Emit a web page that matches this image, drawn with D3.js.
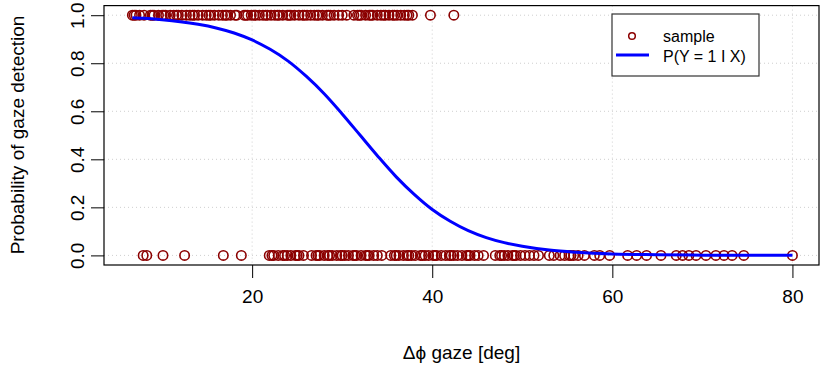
<!DOCTYPE html>
<html>
<head>
<meta charset="utf-8">
<script src="https://cdn.jsdelivr.net/npm/d3@7"></script>
<style>
  body { margin: 0; background: #fff; }
  text { font-family: "Liberation Sans", Arial, sans-serif; fill: #000; }
</style>
</head>
<body>
<svg id="svg" width="823" height="370"></svg>
<script>
// gaze angles of the samples where gaze was detected (Y = 1)
var topX = [6.7, 6.9, 7.1, 7.5, 8.0, 8.7, 8.9, 9.1, 9.6, 10.0, 10.2, 10.4, 10.9, 11.3, 11.6, 11.8,
  12.2, 12.7, 13.1, 13.4, 13.6, 14.0, 14.5, 14.9, 15.2, 15.4, 15.8, 16.3, 16.7, 17.0, 17.2, 17.6,
  18.1, 18.3, 19.1, 19.3, 19.5, 19.9, 20.2, 20.4, 20.8, 21.2, 21.5, 21.7, 22.1, 22.5, 22.8, 23.0,
  23.4, 23.9, 24.1, 24.3, 24.7, 25.2, 25.6, 25.8, 26.1, 26.5, 26.9, 27.2, 27.4, 27.8, 28.3, 28.5,
  28.7, 29.1, 29.6, 30.0, 30.5, 31.3, 31.7, 31.9, 32.1, 32.6, 33.0, 33.2, 33.4, 33.9, 34.3, 34.6,
  34.8, 35.2, 35.6, 35.8, 36.1, 36.5, 36.9, 37.2, 37.4, 37.8, 39.8, 42.4];

// gaze angles of the samples where gaze was not detected (Y = 0)
var bottomX = [7.9, 8.3, 10.1, 12.5, 16.8, 18.8, 21.9, 22.2, 22.4, 22.9, 23.4, 23.6, 23.9, 24.3,
  24.8, 25.0, 25.2, 25.7, 26.6, 27.1, 27.3, 27.5, 28.0, 28.4, 28.6, 28.9, 29.4, 29.8, 30.0, 30.3,
  30.7, 31.2, 31.4, 31.6, 32.1, 32.6, 32.8, 33.0, 33.5, 33.9, 34.4, 35.4, 35.8, 36.0, 36.3, 36.8,
  37.2, 37.4, 37.7, 38.1, 38.7, 38.9, 39.2, 39.6, 40.1, 40.3, 40.5, 41.0, 41.5, 41.9, 42.1, 42.4,
  42.8, 43.3, 43.8, 44.0, 44.2, 44.7, 45.1, 45.7, 47.0, 47.5, 47.7, 48.0, 48.4, 48.9, 49.1, 49.3,
  49.8, 50.3, 50.8, 51.3, 51.8, 53.0, 53.5, 54.2, 54.7, 55.2, 55.4, 55.7, 56.2, 56.9, 58.0, 58.6,
  59.7, 61.7, 62.7, 63.8, 65.4, 67.1, 67.8, 68.5, 69.3, 70.4, 71.5, 72.4, 73.3, 74.6, 80.0];

// fitted P(Y = 1 | X)
var curveX = [6.7, 8, 10, 12, 14, 16, 18, 20, 22, 24, 26, 28, 30, 32, 34, 36, 38, 40, 42, 44,
  46, 48, 50, 53, 56, 60, 65, 70, 75, 80];
var curveP = [0.989, 0.987, 0.981, 0.973, 0.962, 0.947, 0.926, 0.897, 0.858, 0.809, 0.746, 0.673,
  0.589, 0.500, 0.411, 0.327, 0.254, 0.191, 0.142, 0.103, 0.074, 0.053, 0.038, 0.022, 0.013,
  0.006, 0.003, 0.001, 0.0005, 0.0002];

var xTicks = [20, 40, 60, 80];
var yTicks = [0, 0.2, 0.4, 0.6, 0.8, 1.0];

var svg = d3.select("#svg");

// plot region (R style, 4% padding on both axes)
var scaleX = d3.scaleLinear().domain([3.55, 82.95]).range([104, 819]);
var scaleY = d3.scaleLinear().domain([-0.04, 1.04]).range([265, 5.6]);

// grid
var grid = svg.append("g")
  .attr("stroke", "#cfcfcf")
  .attr("stroke-width", 1)
  .attr("stroke-dasharray", "1,3");
grid.selectAll(".gx").data(xTicks).enter().append("line")
  .attr("x1", function(d) { return scaleX(d); })
  .attr("x2", function(d) { return scaleX(d); })
  .attr("y1", 5.6).attr("y2", 265);
grid.selectAll(".gy").data(yTicks).enter().append("line")
  .attr("y1", function(d) { return scaleY(d); })
  .attr("y2", function(d) { return scaleY(d); })
  .attr("x1", 104).attr("x2", 819);

// points
var pts = svg.append("g")
  .attr("fill", "none")
  .attr("stroke", "#8B0000")
  .attr("stroke-width", 1.6);
pts.selectAll(".top").data(topX).enter().append("circle")
  .attr("cx", function(d) { return scaleX(d); })
  .attr("cy", scaleY(1))
  .attr("r", 4.7);
pts.selectAll(".bot").data(bottomX).enter().append("circle")
  .attr("cx", function(d) { return scaleX(d); })
  .attr("cy", scaleY(0))
  .attr("r", 4.7);

// fitted curve
var line = d3.line()
  .x(function(d, i) { return scaleX(curveX[i]); })
  .y(function(d) { return scaleY(d); })
  .curve(d3.curveMonotoneX);
svg.append("path")
  .attr("d", line(curveP))
  .attr("fill", "none")
  .attr("stroke", "#0000FF")
  .attr("stroke-width", 3);

// box
svg.append("rect")
  .attr("x", 104).attr("y", 5.6)
  .attr("width", 715).attr("height", 259.4)
  .attr("fill", "none").attr("stroke", "#000").attr("stroke-width", 1.2);

// axes
var axisX = d3.axisBottom(scaleX).tickValues(xTicks).tickSize(13).tickPadding(12)
  .tickFormat(d3.format("d"));
var gAxisX = svg.append("g").attr("transform", "translate(0,265)").call(axisX);
gAxisX.select(".domain").remove();
gAxisX.selectAll("text").style("font-size", "19px").attr("font-family", "Liberation Sans, Arial, sans-serif");

var axisY = d3.axisLeft(scaleY).tickValues(yTicks).tickSize(13).tickFormat(d3.format(".1f"));
var gAxisY = svg.append("g").attr("transform", "translate(104,0)").call(axisY);
gAxisY.select(".domain").remove();
gAxisY.selectAll("text")
  .style("font-size", "19px")
  .attr("font-family", "Liberation Sans, Arial, sans-serif")
  .attr("text-anchor", "middle")
  .attr("dy", null)
  .attr("x", null)
  .attr("transform", "translate(-27,0) rotate(-90)")
  .attr("dominant-baseline", "central");

// axis titles
svg.append("text")
  .attr("x", 461.5).attr("y", 359)
  .attr("text-anchor", "middle")
  .style("font-size", "19px")
  .text("Δϕ gaze [deg]");

svg.append("text")
  .attr("transform", "translate(24,135) rotate(-90)")
  .attr("text-anchor", "middle")
  .style("font-size", "19px")
  .text("Probability of gaze detection");

// legend
var leg = svg.append("g");
leg.append("rect")
  .attr("x", 612).attr("y", 14).attr("width", 147).attr("height", 62)
  .attr("fill", "#fff").attr("stroke", "#333").attr("stroke-width", 1.2);
leg.append("circle")
  .attr("cx", 632).attr("cy", 36).attr("r", 3.3)
  .attr("fill", "none").attr("stroke", "#8B0000").attr("stroke-width", 1.5);
leg.append("line")
  .attr("x1", 616).attr("x2", 649).attr("y1", 55).attr("y2", 55)
  .attr("stroke", "#0000FF").attr("stroke-width", 3);
leg.append("text").attr("x", 663).attr("y", 42).style("font-size", "16px").text("sample");
leg.append("text").attr("x", 663).attr("y", 62).style("font-size", "16px").text("P(Y = 1 I X)");
</script>
</body>
</html>
